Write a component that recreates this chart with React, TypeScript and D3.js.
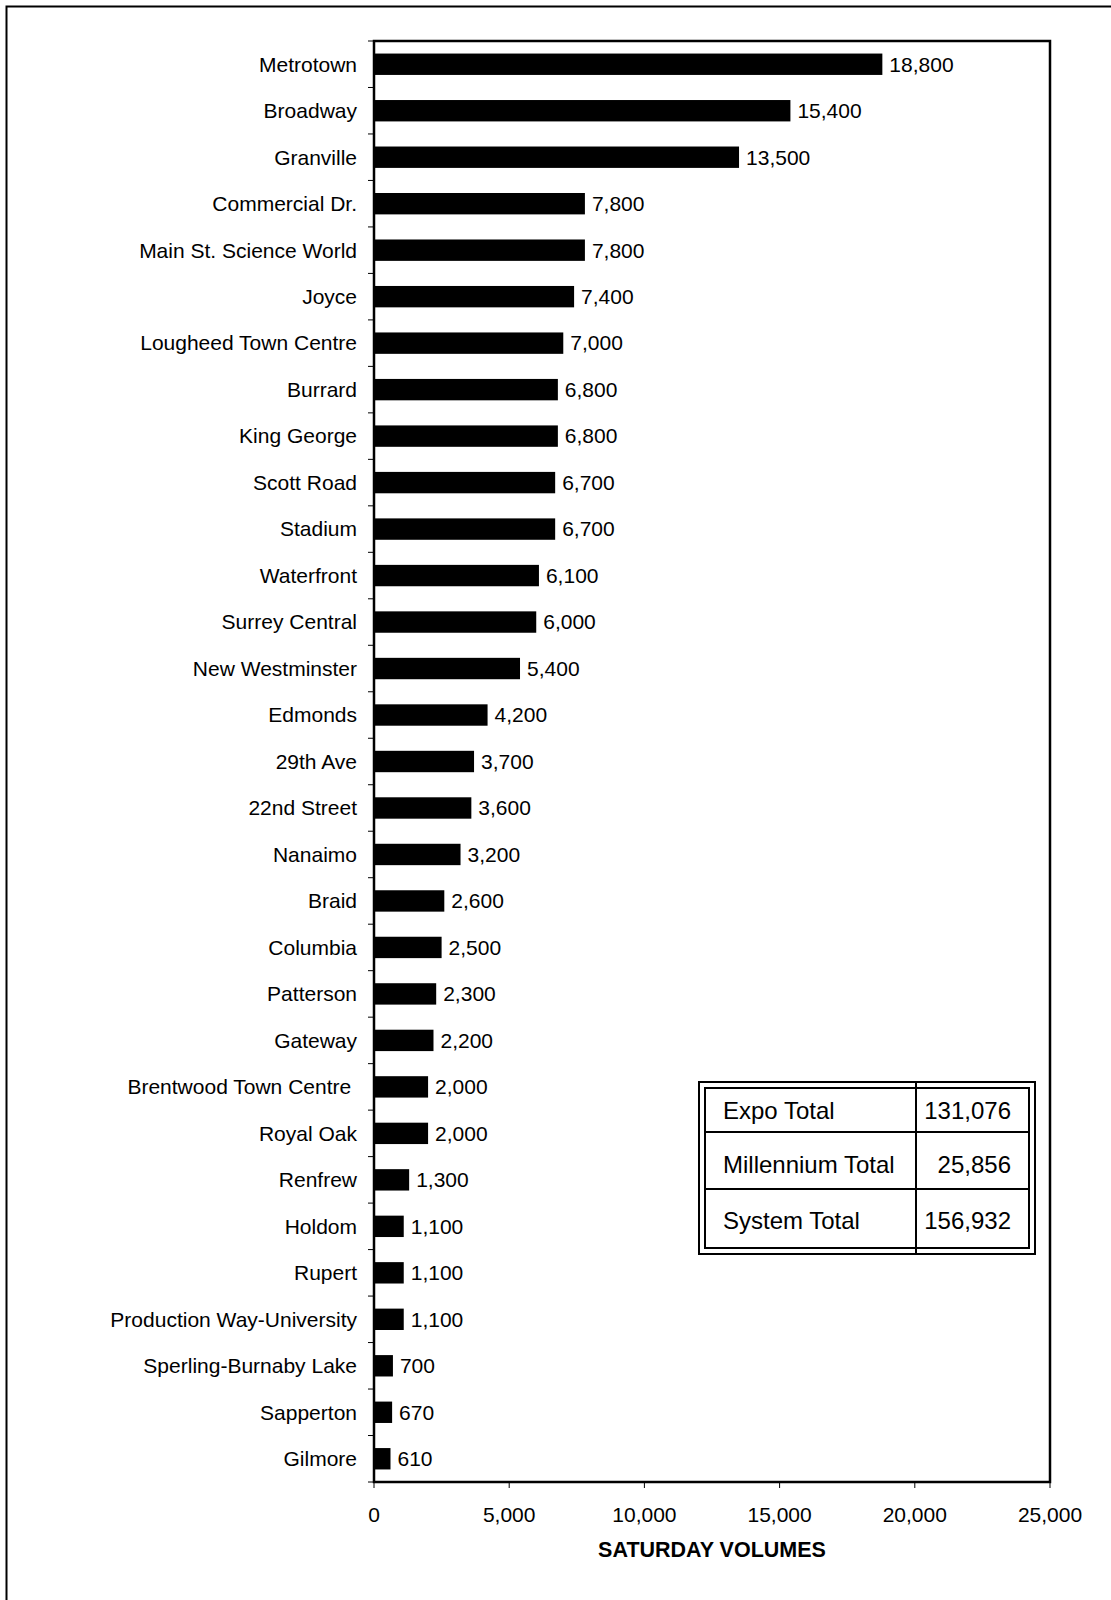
import React from "react";
import * as d3 from "d3";

const stations: string[] = [
  "Metrotown", "Broadway", "Granville", "Commercial Dr.", "Main St. Science World",
  "Joyce", "Lougheed Town Centre", "Burrard", "King George", "Scott Road", "Stadium",
  "Waterfront", "Surrey Central", "New Westminster", "Edmonds", "29th Ave",
  "22nd Street", "Nanaimo", "Braid", "Columbia", "Patterson", "Gateway",
  "Brentwood Town Centre ", "Royal Oak", "Renfrew", "Holdom", "Rupert",
  "Production Way-University", "Sperling-Burnaby Lake", "Sapperton", "Gilmore",
];
const volumes: number[] = [
  18800, 15400, 13500, 7800, 7800, 7400, 7000, 6800, 6800, 6700, 6700,
  6100, 6000, 5400, 4200, 3700, 3600, 3200, 2600, 2500, 2300, 2200,
  2000, 2000, 1300, 1100, 1100, 1100, 700, 670, 610,
];
const xTicks: number[] = [0, 5000, 10000, 15000, 20000, 25000];
const totalLabels: string[] = ["Expo Total", "Millennium Total", "System Total"];
const totalValues: number[] = [131076, 25856, 156932];
const axisTitle = "SATURDAY VOLUMES";

const FONT = "'Liberation Sans', Arial, Helvetica, sans-serif";

export default function App() {
  const left = 374, right = 1050, top = 41, bottom = 1482;
  const x = d3.scaleLinear().domain([0, 25000]).range([left, right]);
  const y = d3.scaleBand<string>().domain(stations).range([top, bottom])
    .paddingInner(0.54).paddingOuter(0.27);
  const step = y.step();
  const bw = y.bandwidth();
  const fmt = d3.format(",");
  const boundaries = d3.range(stations.length + 1).map((i) => top + i * step);

  // table geometry
  const tL = 699, tR = 1035, tT = 1082, tB = 1254, inset = 6;
  const colX = 916;
  const rowLines = [tT + inset, 1132, 1189, tB - inset];
  const rowShift = [1, 4, 2];

  return (
    <svg width={1111} height={1600} style={{ position: "absolute", left: 0, top: 0, background: "#fff" }}
      fontFamily={FONT}>
      <rect x={0} y={0} width={1111} height={1600} fill="#fff" />
      {/* outer page border (extends beyond right/bottom) */}
      <path d="M6.5,1600 V6.5 H1111" fill="none" stroke="#000" strokeWidth={2} />

      {/* y tick marks at band boundaries */}
      {boundaries.map((b, i) => (
        <line key={"yt" + i} x1={left - 6} x2={left} y1={b} y2={b} stroke="#000" strokeWidth={1} />
      ))}
      {/* x tick marks */}
      {xTicks.map((t) => (
        <line key={"xt" + t} x1={x(t)} x2={x(t)} y1={bottom} y2={bottom + 6} stroke="#000" strokeWidth={1} />
      ))}

      {/* bars */}
      {stations.map((s, i) => (
        <rect key={"b" + i} x={x(0)} y={y(s)!} width={x(volumes[i]) - x(0)} height={bw} fill="#000" />
      ))}
      {/* frame */}
      <rect x={left} y={top} width={right - left} height={bottom - top} fill="none" stroke="#000" strokeWidth={2.5} />

      {/* category labels */}
      {stations.map((s, i) => (
        <text key={"l" + i} x={left - 17} y={y(s)! + bw / 2} dy="0.35em" textAnchor="end"
          fontSize={21} fill="#000" style={{ whiteSpace: "pre" }}>{s}</text>
      ))}
      {/* value labels */}
      {stations.map((s, i) => (
        <text key={"v" + i} x={x(volumes[i]) + 7} y={y(s)! + bw / 2} dy="0.35em"
          fontSize={21} fill="#000">{fmt(volumes[i])}</text>
      ))}

      {/* x tick labels */}
      {xTicks.map((t) => (
        <text key={"xl" + t} x={x(t)} y={bottom + 40} textAnchor="middle" fontSize={21} fill="#000">{fmt(t)}</text>
      ))}
      <text x={(left + right) / 2} y={1557} textAnchor="middle" fontSize={21.5} fontWeight="bold" fill="#000">{axisTitle}</text>

      {/* totals table */}
      <rect x={tL} y={tT} width={tR - tL} height={tB - tT} fill="#fff" stroke="#000" strokeWidth={2} />
      <rect x={tL + inset} y={tT + inset} width={tR - tL - 2 * inset} height={tB - tT - 2 * inset} fill="none" stroke="#000" strokeWidth={2} />
      <line x1={colX} x2={colX} y1={tT} y2={tB} stroke="#000" strokeWidth={2} />
      {rowLines.slice(1, 3).map((r, i) => (
        <line key={"rl" + i} x1={tL + inset} x2={tR - inset} y1={r} y2={r} stroke="#000" strokeWidth={2} />
      ))}
      {totalLabels.map((lab, i) => {
        const cy = (rowLines[i] + rowLines[i + 1]) / 2 + rowShift[i];
        return (
          <g key={"tr" + i}>
            <text x={tL + 24} y={cy} dy="0.35em" fontSize={24} fill="#000">{lab}</text>
            <text x={tR - 24} y={cy} dy="0.35em" textAnchor="end" fontSize={24} fill="#000">{fmt(totalValues[i])}</text>
          </g>
        );
      })}
    </svg>
  );
}
